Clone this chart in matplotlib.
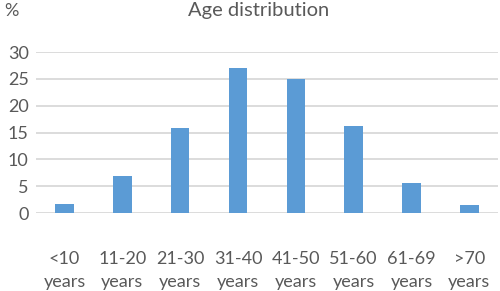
import numpy as np
import matplotlib.pyplot as plt

plt.rcParams['font.family'] = ['Lato', 'DejaVu Sans']

# data
age_groups = ["<10\nyears", "11-20\nyears", "21-30\nyears", "31-40\nyears",
              "41-50\nyears", "51-60\nyears", "61-69\nyears", ">70\nyears"]
percent = [1.6, 6.9, 15.8, 27.1, 24.9, 16.3, 5.6, 1.5]
yticks = [0, 5, 10, 15, 20, 25, 30]

text_col = '#595959'

fig = plt.figure(figsize=(5, 2.91), dpi=100)
ax = fig.add_axes([0.0714, 0.268, 0.925, 0.553])

x = np.arange(len(age_groups))
ax.bar(x, percent, width=0.32, color='#5B9BD5', zorder=3)

ax.set_xlim(-0.5, len(age_groups) - 0.5)
ax.set_ylim(0, 30)
ax.set_yticks(yticks)
ax.set_xticks(x)
ax.set_xticklabels(age_groups, linespacing=1.55)

ax.grid(axis='y', color='#D9D9D9', linewidth=1.3, zorder=0)
for s in ax.spines.values():
    s.set_visible(False)
ax.tick_params(axis='both', length=0, labelsize=13, labelcolor=text_col)
ax.tick_params(axis='x', pad=27)
ax.tick_params(axis='y', pad=5)

fig.text(0.518, 0.965, "Age distribution", ha='center', va='center',
         fontsize=14.5, color=text_col)
fig.text(0.008, 0.962, "%", ha='left', va='center', fontsize=13, color=text_col)

fig.savefig('out.png', dpi=100)
